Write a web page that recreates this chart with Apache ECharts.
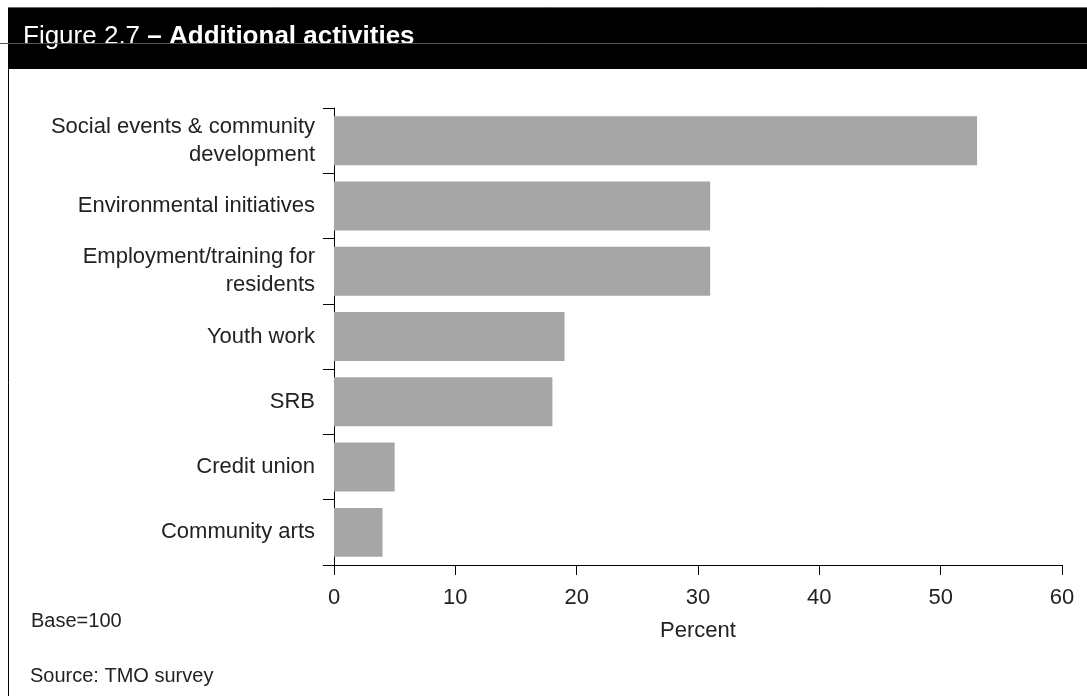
<!DOCTYPE html>
<html>
<head>
<meta charset="utf-8">
<script src="https://cdn.jsdelivr.net/npm/echarts@6/dist/echarts.min.js"></script>
<style>
html,body{margin:0;padding:0;background:#fff;}
#chart{width:1087px;height:696px;}
</style>
</head>
<body>
<div id="chart"></div>
<script>
var categories = [
  "Social events & community\ndevelopment",
  "Environmental initiatives",
  "Employment/training for\nresidents",
  "Youth work",
  "SRB",
  "Credit union",
  "Community arts"
];
var values = [53, 31, 31, 19, 18, 5, 4];
var xTicks = { min: 0, max: 60, interval: 10 };
var titleRegular = "Figure 2.7 ";
var titleBold = "– Additional activities";
var axisName = "Percent";
var baseNote = "Base=100";
var sourceNote = "Source: TMO survey";

var FONT = '"Liberation Sans", Arial, sans-serif';
var chart = echarts.init(document.getElementById('chart'), null, {renderer: 'canvas'});
chart.setOption({
  backgroundColor: '#fff',
  animation: false,
  textStyle: { fontFamily: FONT },
  grid: { left: 334, right: 25, top: 108, bottom: 131, containLabel: false },
  xAxis: {
    type: 'value',
    min: xTicks.min, max: xTicks.max, interval: xTicks.interval,
    splitLine: { show: false },
    axisLine: { show: true, lineStyle: { color: '#000', width: 1 } },
    axisTick: { show: true, length: 10, lineStyle: { color: '#000', width: 1 } },
    axisLabel: { color: '#222', fontSize: 22, margin: 22, fontFamily: FONT },
    name: axisName,
    nameLocation: 'middle',
    nameGap: 55,
    nameTextStyle: { color: '#222', fontSize: 22, fontFamily: FONT }
  },
  yAxis: {
    type: 'category',
    inverse: true,
    data: categories,
    axisLine: { show: true, lineStyle: { color: '#000', width: 1 } },
    axisTick: { show: true, length: 11, alignWithLabel: false, lineStyle: { color: '#000', width: 1 } },
    axisLabel: { color: '#222', fontSize: 22, margin: 19, lineHeight: 28, align: 'right', fontFamily: FONT }
  },
  series: [{
    type: 'bar',
    data: values,
    barCategoryGap: '25%',
    itemStyle: { color: '#a6a6a6' },
    silent: true
  }],
  graphic: [
    { type: 'rect', shape: { x: 8, y: 7, width: 1079, height: 62 }, style: { fill: '#000' }, z: 10 },
    { type: 'line', shape: { x1: 8, y1: 7.5, x2: 1087, y2: 7.5 }, style: { stroke: '#666', lineWidth: 1 }, z: 11 },
    { type: 'line', shape: { x1: 0, y1: 43.5, x2: 1087, y2: 43.5 }, style: { stroke: '#555', lineWidth: 1 }, z: 13 },
    { type: 'line', shape: { x1: 8.5, y1: 69, x2: 8.5, y2: 696 }, style: { stroke: '#000', lineWidth: 1 }, z: 11 },
    { type: 'text', left: 23, top: 24, z: 12,
      style: {
        text: '{r|' + titleRegular + '}{b|' + titleBold + '}',
        rich: {
          r: { fill: '#fff', fontSize: 26, fontFamily: FONT, fontWeight: 'normal' },
          b: { fill: '#fff', fontSize: 26, fontFamily: FONT, fontWeight: 'bold' }
        }
      }
    },
    { type: 'text', left: 31, top: 611, z: 12, style: { text: baseNote, fill: '#222', fontSize: 20, fontFamily: FONT } },
    { type: 'text', left: 30, top: 666, z: 12, style: { text: sourceNote, fill: '#222', fontSize: 20, fontFamily: FONT } }
  ]
});
</script>
</body>
</html>
